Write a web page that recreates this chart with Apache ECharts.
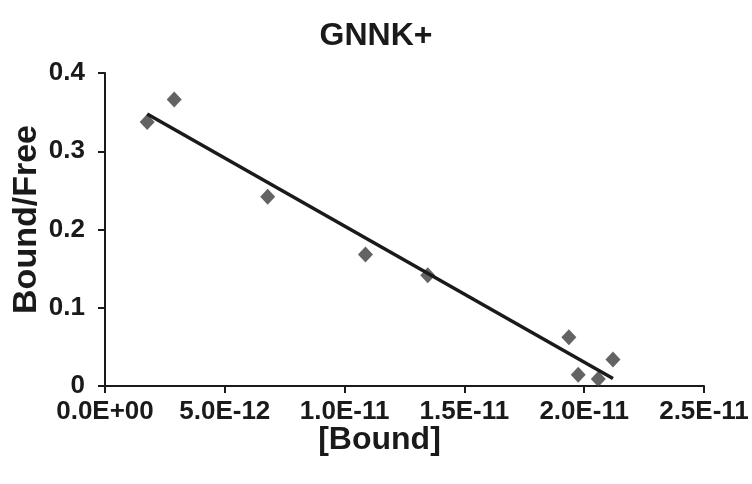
<!DOCTYPE html>
<html>
<head>
<meta charset="utf-8">
<script src="https://cdn.jsdelivr.net/npm/echarts@6/dist/echarts.min.js"></script>
<style>
html,body{margin:0;padding:0;background:#fff;}
#chart{width:752px;height:484px;}
</style>
</head>
<body>
<div id="chart"></div>
<script>
var titleText = 'GNNK+';
var xName = '[Bound]';
var yName = 'Bound/Free';
var boundValues = [1.76e-12, 2.89e-12, 6.79e-12, 10.87e-12, 13.47e-12, 19.36e-12, 19.75e-12, 20.59e-12, 21.2e-12];
var ratioValues = [0.3375, 0.366, 0.242, 0.168, 0.1416, 0.0624, 0.0144, 0.009, 0.034];
var xTicks = [0, 5e-12, 1e-11, 1.5e-11, 2e-11, 2.5e-11];
var yTicks = [0, 0.1, 0.2, 0.3, 0.4];

// least-squares trendline (as the spreadsheet's linear trendline)
var n = boundValues.length, sx = 0, sy = 0, sxx = 0, sxy = 0;
for (var i = 0; i < n; i++) { sx += boundValues[i]; sy += ratioValues[i]; sxx += boundValues[i]*boundValues[i]; sxy += boundValues[i]*ratioValues[i]; }
var slope = (n*sxy - sx*sy) / (n*sxx - sx*sx);
var intercept = (sy - slope*sx) / n;
var xmin = Math.min.apply(null, boundValues), xmax = Math.max.apply(null, boundValues);
var trend = [[xmin, intercept + slope*xmin], [xmax, intercept + slope*xmax]];

function fmtExp(v) {
  if (v === 0) return '0.0E+00';
  var s = v.toExponential(1).toUpperCase();
  var parts = s.split('E');
  var e = parseInt(parts[1], 10);
  var sign = e < 0 ? '-' : '+';
  var ae = Math.abs(e);
  return parts[0] + 'E' + sign + (ae < 10 ? '0' + ae : '' + ae);
}

var font = '"Liberation Sans", Arial, sans-serif';
var chart = echarts.init(document.getElementById('chart'), null, {renderer: 'canvas'});
chart.setOption({
  animation: false,
  backgroundColor: '#ffffff',
  title: {
    text: titleText, left: 'center', top: 15,
    textStyle: {fontFamily: font, fontWeight: 'bold', fontSize: 32, color: '#1a1a1a'}
  },
  grid: {left: 105, right: 48, top: 73, bottom: 98, containLabel: false, outerBoundsMode: 'none'},
  xAxis: {
    type: 'value', min: xTicks[0], max: xTicks[xTicks.length-1], interval: xTicks[1]-xTicks[0],
    name: xName, nameLocation: 'middle', nameGap: 38, nameMoveOverlap: false,
    nameTextStyle: {fontFamily: font, fontWeight: 'bold', fontSize: 32, color: '#1a1a1a', padding: [0, 50, 0, 0]},
    axisLine: {show: true, onZero: false, lineStyle: {color: '#1a1a1a', width: 2}},
    axisTick: {show: true, inside: false, length: 7, lineStyle: {color: '#1a1a1a', width: 2}},
    axisLabel: {formatter: fmtExp, margin: 13, fontFamily: font, fontWeight: 'bold', fontSize: 26, color: '#1a1a1a'},
    splitLine: {show: false}
  },
  yAxis: {
    type: 'value', min: yTicks[0], max: yTicks[yTicks.length-1], interval: yTicks[1]-yTicks[0],
    name: yName, nameLocation: 'middle', nameGap: 61, nameRotate: 90, nameMoveOverlap: false,
    nameTextStyle: {fontFamily: font, fontWeight: 'bold', fontSize: 34, color: '#1a1a1a', padding: [0, 0, 0, 20]},
    axisLine: {show: true, onZero: false, lineStyle: {color: '#1a1a1a', width: 2}},
    axisTick: {show: true, inside: false, length: 7, lineStyle: {color: '#1a1a1a', width: 2}},
    axisLabel: {formatter: function(v){ return v === 0 ? '0' : String(+v.toFixed(1)); }, margin: 20, fontFamily: font, fontWeight: 'bold', fontSize: 26, color: '#1a1a1a'},
    splitLine: {show: false}
  },
  series: [
    {
      type: 'line', data: trend, symbol: 'none', z: 3,
      lineStyle: {color: '#1a1a1a', width: 3.5}
    },
    {
      type: 'scatter', data: boundValues.map(function(x, i){ return [x, ratioValues[i]]; }),
      symbol: 'diamond', symbolSize: [15, 16], z: 2,
      itemStyle: {color: '#3c3c3c'}
    }
  ]
});
</script>
</body>
</html>
